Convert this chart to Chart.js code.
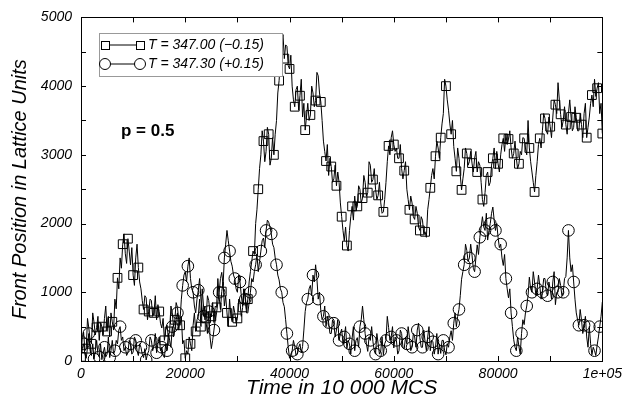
<!DOCTYPE html>
<html>
<head>
<meta charset="utf-8">
<script src="https://cdn.jsdelivr.net/npm/chart.js@4/dist/chart.umd.min.js"></script>
<style>
html,body{margin:0;padding:0;background:#fff;}
canvas{display:block;}
</style>
</head>
<body>
<canvas id="c" width="627" height="399"></canvas>
<script>
// Sampling grid: one reading every 250 time units, 0 .. 100000
const timeStep = 250;

// T = 347.00 (−0.15) — squares
const seriesLow = [
  60,350, 420,150, 180,620, 480,300, 250,700, 560,380, 490,650, 300,550, 500,380, 620,800,
  430,650, 350,700, 570,450, 900,760, 1210,1050, 1500,1350, 1700,1850, 1560,1420, 1780,1600, 1400,1650,
  1250,1100, 1500,1700, 1360,1150, 1050,880, 750,950, 920,600, 720,900, 880,650, 700,950, 600,820,
  720,550, 480,620, 300,450, 520,350, 430,800, 700,500, 600,850, 780,600, 520,650, 250,300,
  40,150, 100,350, 250,150, 520,700, 430,600, 650,900, 500,1050, 800,600, 620,950, 880,700,
  650,850, 560,800, 780,1200, 930,750, 1010,1150, 800,950, 700,500, 900,650, 570,800, 700,550,
  620,900, 850,650, 780,1050, 950,750, 900,1150, 1300,1450, 1600,1550, 2000,2200, 2500,2800, 3000,3350,
  3200,2900, 3050,3400, 3300,2850, 2950,3250, 3000,3300, 3500,3900, 4080,4400, 4650,4750, 4400,4600, 4580,4300,
  4250,4450, 4000,3800, 3700,3950, 4000,3650, 3860,4100, 3550,3750, 3360,3550, 3750,3500, 3580,4000, 3900,3700,
  3790,4200, 4150,3900, 3770,3500, 3200,3050, 2910,3150, 2700,2950, 2830,2600, 2650,2850, 2550,2750, 2600,2300,
  2100,1900, 1750,1950, 1680,1600, 1900,2100, 2250,2050, 2400,2200, 2250,2550, 2500,2300, 2370,2700, 2600,2400,
  2450,2900, 2850,2600, 2640,2800, 2500,2350, 2410,2600, 2300,2150, 2170,2350, 2600,2900, 3130,3000, 3250,3350,
  3150,3050, 3100,2950, 2950,3150, 2800,2650, 2770,2900, 2500,2350, 2200,2400, 2300,2100, 2060,2250, 2150,1950,
  1900,2100, 2050,1850, 1880,1800, 2200,2350, 2520,2700, 2800,2650, 2980,3200, 3100,2950, 3250,3450, 3600,4100,
  4000,3800, 3650,3450, 3300,3500, 3120,2950, 2760,3100, 2950,2700, 2490,2650, 2800,3100, 3020,2850, 2900,3050,
  2880,2750, 2950,3050, 2750,2900, 2850,2600, 2350,2250, 2450,2700, 2750,2550, 2600,2850, 2950,3100, 2800,3050,
  2870,2750, 3000,3150, 3240,3050, 3300,3150, 3230,3350, 3100,2950, 3020,3200, 2950,2800, 2870,3050, 3000,3250,
  3240,3100, 3000,3500, 3100,2900, 2750,2600, 2460,2700, 2900,3150, 3240,3100, 3350,3600, 3530,3350, 3300,3550,
  3410,3250, 3550,3800, 3730,3600, 4050,3800, 3590,3400, 3500,3700, 3440,3300, 3600,3800, 3550,3350, 3400,3700,
  3540,3350, 3350,3600, 3440,3250, 3600,3750, 3250,3400, 3550,3750, 3870,3700, 4100,3850, 3970,4050, 3600,3750,
  3310
];

// T = 347.30 (+0.15) — circles
const seriesHigh = [
  60,180, 250,100, 40,200, 400,150, 80,250, 30,150, 300,100, 60,250, 20,120, 200,60,
  100,350, 50,150, 300,100, 150,300, 250,450, 500,300, 350,150, 200,80, 120,300, 250,100,
  130,350, 300,150, 80,250, 200,100, 50,180, 15,100, 150,350, 300,150, 230,400, 120,250,
  350,150, 200,80, 50,250, 150,400, 300,200, 500,350, 460,600, 700,450, 600,900, 1100,1250,
  1300,1150, 1380,1500, 1200,1050, 1000,800, 700,900, 1030,1200, 900,750, 650,800, 560,400, 720,350,
  180,300, 450,600, 700,850, 1000,1200, 1290,1100, 1500,1700, 1900,1750, 1600,1450, 1380,1250, 1200,1050,
  1000,1250, 1150,950, 800,1050, 900,700, 700,850, 1000,1200, 1150,1300, 1400,1550, 1300,1450, 1600,1750,
  1790,1650, 1900,2050, 2020,1950, 1850,1700, 1650,1500, 1400,1250, 1180,1050, 1000,850, 790,600, 400,200,
  40,100, 150,300, 210,80, 100,200, 250,120, 210,450, 720,850, 900,1050, 1100,950, 1250,1150,
  1400,1200, 900,1000, 730,600, 650,800, 500,650, 560,400, 400,600, 550,350, 450,600, 300,400,
  465,250, 350,500, 180,300, 250,100, 330,500, 150,300, 340,200, 500,600, 800,600, 400,250,
  140,350, 300,500, 280,150, 100,400, 250,100, 150,350, 90,250, 300,650, 490,300, 350,500,
  190,350, 300,100, 150,450, 400,200, 180,350, 250,500, 340,150, 200,400, 350,200, 450,550,
  340,200, 200,450, 280,150, 350,500, 150,300, 280,100, 200,400, 100,250, 110,300, 300,150,
  90,250, 200,350, 440,300, 550,700, 500,650, 750,950, 1190,1300, 1400,1700, 1610,1450, 1500,1700,
  1540,1350, 1300,1500, 1690,1550, 1800,1950, 2100,1950, 1900,2150, 1760,1900, 2000,2150, 2240,2050, 1900,2000,
  1800,1650, 1700,1500, 1390,1550, 1200,1050, 920,1050, 700,500, 310,200, 150,350, 210,100, 400,600,
  530,700, 800,950, 1220,1050, 1000,1300, 1150,950, 1050,1250, 1100,900, 1000,1200, 1200,1000, 950,1150,
  1050,900, 1150,1300, 820,1000, 1000,1200, 1100,950, 1000,1200, 1230,1500, 1900,1500, 1300,1400, 1150,900,
  700,600, 520,750, 600,400, 520,650, 350,200, 500,250, 90,200, 150,80, 230,350, 500,650,
  860
];

const xTickLabels = ['0','20000','40000','60000','80000','1e+05'];
const seriesNames = ['T = 347.00 (\u22120.15)', 'T = 347.30 (+0.15)'];
const annotationText = 'p = 0.5';
const xTitle = 'Time in 10 000 MCS';
const yTitle = 'Front Position in Lattice Units';

const times = seriesLow.map((_, i) => i * timeStep);
const toPts = arr => arr.map((v, i) => ({x: times[i], y: v}));

const FONT = '"Liberation Sans", Arial, Helvetica, sans-serif';

const frame = {
  id: 'frame',
  afterDatasetsDraw(chart) {
    const {ctx, chartArea: a, scales: {x, y}} = chart;
    ctx.save();
    ctx.strokeStyle = '#000';
    ctx.lineWidth = 1;
    ctx.beginPath();
    for (let v = 0; v <= 100000; v += 10000) {
      const px = Math.round(x.getPixelForValue(v)) + 0.5;
      ctx.moveTo(px, a.bottom); ctx.lineTo(px, a.bottom - 5);
      ctx.moveTo(px, a.top); ctx.lineTo(px, a.top + 5);
    }
    for (let v = 0; v <= 5000; v += 500) {
      const py = Math.round(y.getPixelForValue(v)) + 0.5;
      ctx.moveTo(a.left, py); ctx.lineTo(a.left + 5, py);
      ctx.moveTo(a.right, py); ctx.lineTo(a.right - 5, py);
    }
    ctx.stroke();
    ctx.strokeRect(Math.round(a.left) + 0.5, Math.round(a.top) + 0.5,
                   Math.round(a.right - a.left), Math.round(a.bottom - a.top));

    // annotation
    ctx.fillStyle = '#000';
    ctx.font = 'bold 17px ' + FONT;
    ctx.textAlign = 'left';
    ctx.textBaseline = 'middle';
    ctx.fillText(annotationText, 121, 131);

    // legend
    const bx = 99.5, by = 33.5, bw = 183, bh = 43;
    ctx.fillStyle = '#fff';
    ctx.fillRect(bx, by, bw, bh);
    ctx.strokeStyle = '#999';
    ctx.strokeRect(bx, by, bw, bh);
    const rows = [45, 64];
    chart.data.datasets.forEach((ds, i) => {
      const ry = rows[i];
      ctx.strokeStyle = '#000';
      ctx.lineWidth = 1;
      ctx.beginPath();
      ctx.moveTo(105, ry); ctx.lineTo(140, ry);
      ctx.stroke();
      [105, 140].forEach(mx => {
        ctx.beginPath();
        ctx.fillStyle = '#fff';
        if (ds.pointStyle === 'rect') {
          ctx.fillRect(mx - 4, ry - 4, 8, 8);
          ctx.strokeRect(mx - 4 + 0.5, ry - 4 + 0.5, 8, 8);
        } else {
          ctx.arc(mx, ry, 5.5, 0, Math.PI * 2);
          ctx.fill();
          ctx.stroke();
        }
      });
      ctx.fillStyle = '#000';
      ctx.font = 'italic 14px ' + FONT;
      ctx.textBaseline = 'middle';
      ctx.fillText(ds.label, 148, ry + 0.5);
    });
    ctx.restore();
  }
};

new Chart(document.getElementById('c'), {
  type: 'line',
  data: {
    datasets: [
      {
        label: seriesNames[0],
        data: toPts(seriesLow),
        borderColor: '#000',
        borderWidth: 1,
        pointStyle: 'rect',
        pointRadius: c => (c.dataIndex % 4 === 0 ? 6.2 : 0),
        pointBorderColor: '#000',
        pointBackgroundColor: 'rgba(0,0,0,0)',
        pointBorderWidth: 1,
        tension: 0
      },
      {
        label: seriesNames[1],
        data: toPts(seriesHigh),
        borderColor: '#000',
        borderWidth: 1,
        pointStyle: 'circle',
        pointRadius: c => (c.dataIndex % 4 === 2 ? 5.8 : 0),
        pointBorderColor: '#000',
        pointBackgroundColor: 'rgba(0,0,0,0)',
        pointBorderWidth: 1,
        tension: 0
      }
    ]
  },
  options: {
    responsive: false,
    animation: false,
    events: [],
    layout: {padding: {top: 17, right: 22, left: 0, bottom: 0}},
    plugins: {legend: {display: false}, tooltip: {enabled: false}},
    scales: {
      x: {
        type: 'linear', min: 0, max: 100000,
        grid: {display: false, drawTicks: false},
        border: {display: false},
        afterFit: s => { s.height = 38; },
        afterBuildTicks: s => { s.ticks = xTickLabels.map((t, i) => ({value: i * 20000})); },
        ticks: {
          color: '#000', padding: 5, maxRotation: 0, autoSkip: false,
          font: {family: FONT, size: 14, style: 'italic'},
          callback: (v, i) => xTickLabels[i]
        },
        title: {display: true, text: xTitle, color: '#000', padding: {top: 0, bottom: 0},
                font: {family: FONT, size: 21, style: 'italic', lineHeight: 1}}
      },
      y: {
        type: 'linear', min: 0, max: 5000,
        grid: {display: false, drawTicks: false},
        border: {display: false},
        afterFit: s => { s.width = 81; },
        ticks: {
          stepSize: 1000, color: '#000', padding: 9,
          font: {family: FONT, size: 14, style: 'italic'},
          callback: v => String(v)
        },
        title: {display: true, text: yTitle, color: '#000', padding: {top: 8, bottom: 0},
                font: {family: FONT, size: 20, style: 'italic'}}
      }
    }
  },
  plugins: [frame]
});
</script>
</body>
</html>
